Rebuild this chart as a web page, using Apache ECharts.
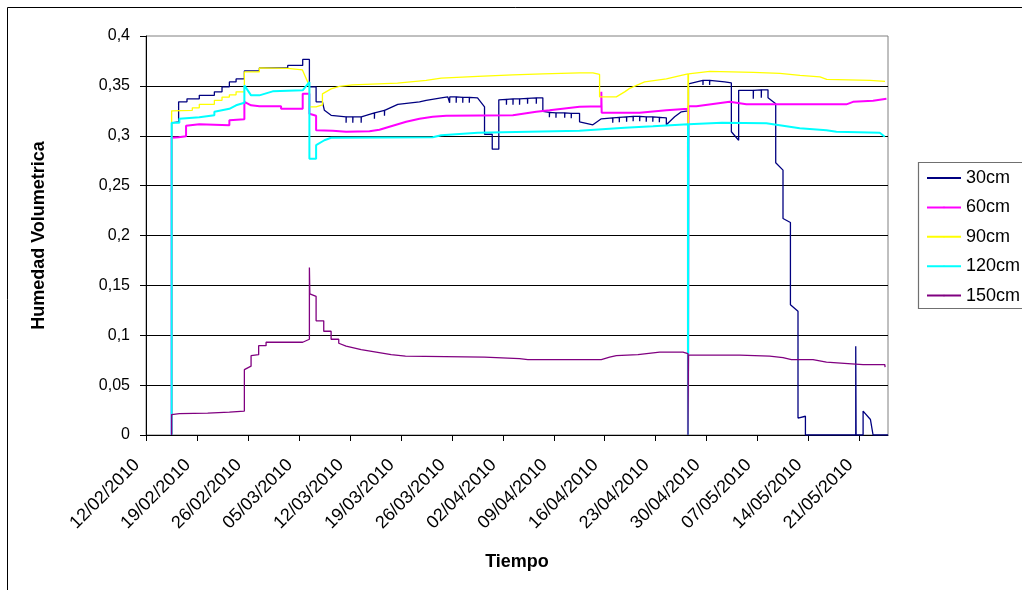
<!DOCTYPE html>
<html>
<head>
<meta charset="utf-8">
<script src="https://cdn.jsdelivr.net/npm/echarts@6/dist/echarts.min.js"></script>
<style>
html,body{margin:0;padding:0;background:#fff}
#chart{width:1022px;height:590px}
</style>
</head>
<body>
<div id="chart"></div>
<script>
// Soil moisture at five depths, x = days after 12/02/2010
const seriesNames = ['30cm', '60cm', '90cm', '120cm', '150cm'];
const seriesColors = ['#000080', '#FF00FF', '#FFFF00', '#00FFFF', '#800080'];
const seriesWidths = [1.3, 2, 1.3, 2, 1.3];

const tickDays = [0, 7, 14, 21, 28, 35, 42, 49, 56, 63, 70, 77, 84, 91, 98];
const dateLabels = ['12/02/2010', '19/02/2010', '26/02/2010', '05/03/2010', '12/03/2010',
  '19/03/2010', '26/03/2010', '02/04/2010', '09/04/2010', '16/04/2010', '23/04/2010',
  '30/04/2010', '07/05/2010', '14/05/2010', '21/05/2010'];
const yLabels = ['0', '0,05', '0,1', '0,15', '0,2', '0,25', '0,3', '0,35', '0,4'];

const depth30 = [
  [3.52,0],[3.52,0.313],[4.48,0.314],[4.48,0.334],[5.63,0.334],[5.63,0.337],[7.32,0.337],[7.32,0.3405],
  [9.39,0.3405],[9.39,0.344],[10.44,0.344],[10.44,0.349],[11.45,0.349],[11.45,0.354],[12.37,0.354],[12.37,0.357],
  [13.51,0.357],[13.51,0.365],[15.57,0.365],[15.57,0.368],[19.46,0.368],[19.46,0.3705],[21.52,0.3705],[21.52,0.3765],
  [22.44,0.3765],[22.44,0.349],[23.36,0.349],[23.36,0.334],[24.23,0.334],[24.5,0.3255],[25.42,0.3205],
  [27.48,0.319],[27.48,0.313],[27.5,0.319],
  [28.4,0.319],[28.4,0.313],[28.42,0.319],
  [29.55,0.319],[29.55,0.313],[29.57,0.319],
  [31.37,0.323],[31.37,0.317],[31.39,0.323],
  [32.75,0.3255],[32.75,0.32],[32.77,0.3255],
  [34.58,0.3315],[37.56,0.334],[38.48,0.3355],[40.54,0.338],[41.45,0.339],
  [41.7,0.339],[41.7,0.333],[41.72,0.339],
  [42.6,0.339],[42.6,0.333],[42.62,0.339],
  [43.5,0.3385],[43.5,0.333],[43.52,0.3385],
  [44.4,0.3385],[44.4,0.333],[44.42,0.3385],
  [45.53,0.338],[46.49,0.329],[46.49,0.3015],[47.55,0.3015],[47.55,0.2865],[48.45,0.2865],[48.45,0.336],
  [49.5,0.3365],[49.5,0.331],[49.52,0.3365],
  [50.4,0.337],[50.4,0.331],[50.42,0.337],
  [51.3,0.337],[51.3,0.331],[51.32,0.337],
  [52.4,0.3375],[52.4,0.332],[52.42,0.3375],
  [53.6,0.338],[53.6,0.332],[53.62,0.338],
  [54.5,0.338],[54.5,0.3245],
  [55.4,0.3235],[55.4,0.3185],[55.42,0.3235],
  [56.3,0.323],[56.3,0.318],[56.32,0.323],
  [57.5,0.323],[57.5,0.318],[57.52,0.323],
  [58.4,0.3225],[58.4,0.3175],[58.42,0.3225],
  [59.54,0.3225],[59.54,0.314],[61.37,0.311],[62.53,0.317],
  [64.1,0.318],[64.1,0.313],[64.12,0.318],
  [65.0,0.3185],[65.0,0.3135],[65.02,0.3185],
  [66.0,0.319],[66.0,0.314],[66.02,0.319],
  [66.9,0.3195],[66.9,0.3145],[66.92,0.3195],
  [67.8,0.3195],[67.8,0.3145],[67.82,0.3195],
  [68.7,0.319],[68.7,0.314],[68.72,0.319],
  [69.6,0.319],[69.6,0.314],[69.62,0.319],
  [70.5,0.3185],[70.5,0.3135],[70.52,0.3185],
  [71.46,0.318],[71.46,0.311],[72.6,0.319],[73.52,0.324],[74.43,0.325],[74.43,0],[74.5,0.352],
  [76.49,0.3555],[76.49,0.351],[76.51,0.3555],
  [77.4,0.3555],[77.4,0.351],[77.42,0.3555],
  [79.47,0.354],[80.39,0.353],[80.39,0.304],[81.39,0.2955],[81.39,0.3455],
  [83.4,0.3455],[83.4,0.337],[83.42,0.3455],
  [84.5,0.346],[84.5,0.338],[84.52,0.346],
  [85.42,0.346],[85.42,0.338],[86.48,0.332],[86.48,0.273],[87.48,0.2655],[87.48,0.217],[88.5,0.213],
  [88.5,0.1305],[89.54,0.124],[89.54,0.017],[90.56,0.0188],[90.56,0],[97.47,0],[97.47,0.089],[97.52,0],
  [98.48,0],[98.48,0.024],[99.49,0.0155],[99.85,0],[101.9,0]
];

const depth60 = [
  [3.52,0],[3.52,0.298],[4.48,0.2985],[5.5,0.2995],[5.5,0.310],[7.32,0.3115],[11.45,0.3105],[11.45,0.3155],
  [13.51,0.3165],[13.51,0.334],[14.43,0.3305],[15.57,0.3295],[18.55,0.3295],[18.55,0.327],[21.52,0.327],
  [21.52,0.342],[22.44,0.342],[22.44,0.322],[23.36,0.32],[23.36,0.3055],[25.64,0.305],[27.48,0.304],
  [30.69,0.3045],[32.06,0.306],[33.43,0.309],[35.73,0.314],[37.56,0.317],[39.38,0.319],[41.23,0.32],
  [50.38,0.3205],[53.59,0.324],[55.42,0.3255],[59.54,0.329],[62.53,0.3295],[62.53,0.344],[62.58,0.323],
  [67.79,0.323],[71.46,0.3255],[74.43,0.327],[74.43,0],[74.5,0.3295],[75.58,0.3295],[80.16,0.334],
  [82.45,0.3315],[96.19,0.3315],[97.1,0.334],[99.85,0.335],[101.69,0.337]
];

const depth90 = [
  [3.52,0],[3.52,0.325],[6.36,0.3255],[6.36,0.328],[7.32,0.328],[7.32,0.3315],[9.39,0.3315],[9.39,0.3355],
  [10.44,0.3355],[10.44,0.3388],[11.45,0.3388],[11.45,0.341],[12.37,0.341],[12.37,0.344],[13.51,0.344],
  [13.51,0.364],[15.57,0.364],[15.57,0.368],[19.46,0.3675],[21.48,0.366],[22.44,0.35],[22.44,0.329],
  [23.36,0.329],[24.23,0.331],[24.23,0.342],[25.42,0.347],[26.56,0.3495],[28.35,0.351],[34.53,0.3527],
  [38.48,0.3555],[40.54,0.3578],[45.57,0.3595],[50.38,0.361],[54.5,0.362],[59.54,0.363],[61.37,0.363],
  [62.29,0.3615],[62.29,0.339],[64.59,0.339],[65.73,0.344],[66.42,0.3475],[68.48,0.354],[71.46,0.357],
  [73.52,0.3605],[74.43,0.362],[74.43,0],[74.5,0.362],[77.42,0.3645],[83.4,0.3635],[85.23,0.363],
  [87.06,0.3625],[89.81,0.3605],[92.56,0.359],[93.48,0.3565],[99.43,0.3555],[101.49,0.3545]
];

const depth120 = [
  [3.52,0],[3.52,0.313],[4.58,0.313],[4.58,0.317],[7.32,0.3185],[7.32,0.3205],[9.39,0.3205],[9.39,0.324],
  [11.45,0.327],[11.45,0.329],[12.37,0.3305],[13.51,0.333],[13.51,0.3505],[14.43,0.3405],[15.57,0.3405],
  [17.4,0.3445],[21.52,0.3455],[22.44,0.354],[22.44,0.277],[23.36,0.277],[23.36,0.2905],[24.5,0.2955],
  [25.42,0.298],[39.38,0.2985],[40.54,0.3005],[45.57,0.303],[59.54,0.305],[65.73,0.308],[69.62,0.3095],
  [74.43,0.3115],[74.43,0],[74.5,0.3115],[79.1,0.313],[85.2,0.3125],[88.4,0.309],[89.78,0.3075],
  [93.45,0.3055],[94.82,0.304],[100.77,0.303],[101.46,0.299]
];

const depth150 = [
  [3.52,0],[3.52,0.0205],[4.58,0.0215],[8.47,0.022],[11.45,0.023],[13.51,0.024],[13.51,0.0655],[14.43,0.069],
  [14.43,0.0795],[15.47,0.0805],[15.47,0.0895],[16.49,0.0895],[16.49,0.093],[21.52,0.093],[22.44,0.096],
  [22.44,0.168],[22.5,0.1415],[23.36,0.139],[23.36,0.1145],[24.41,0.1145],[24.41,0.104],[25.42,0.104],
  [25.42,0.096],[26.47,0.096],[26.47,0.092],[27.48,0.089],[29.55,0.0855],[31.61,0.083],[33.67,0.0805],
  [35.63,0.079],[46.49,0.078],[51.3,0.0765],[52.44,0.0755],[62.53,0.0755],[63.67,0.078],[64.59,0.0795],
  [67.56,0.0805],[70.54,0.083],[73.74,0.083],[74.43,0.0815],[74.43,0],[74.5,0.08],[81.53,0.08],
  [85.65,0.079],[87.48,0.0775],[88.64,0.0755],[91.6,0.0755],[93.45,0.073],[96.41,0.0715],[98.48,0.0705],
  [101.46,0.0705],[101.5,0.068]
];

const seriesData = [depth30, depth60, depth90, depth120, depth150];

const FONT = '"Liberation Sans", Arial, sans-serif';
const chart = echarts.init(document.getElementById('chart'), null, { renderer: 'canvas' });

chart.setOption({
  animation: false,
  backgroundColor: '#ffffff',
  textStyle: { fontFamily: FONT, color: '#000' },
  grid: {
    left: 146, top: 36, right: 134, bottom: 155,
    show: true, borderColor: '#808080', borderWidth: 1, backgroundColor: 'transparent'
  },
  xAxis: {
    type: 'value', min: 0, max: 101.9,
    name: 'Tiempo', nameLocation: 'middle', nameGap: 118,
    nameTextStyle: { fontFamily: FONT, fontSize: 18, fontWeight: 'bold', color: '#000' },
    axisLine: { show: true, onZero: false, lineStyle: { color: '#000', width: 1 } },
    axisTick: { show: true, length: 6, customValues: tickDays, lineStyle: { color: '#000' } },
    axisLabel: {
      customValues: tickDays, rotate: 45, margin: 18, padding: [0, 13, 0, 0],
      fontFamily: FONT, fontSize: 18, color: '#000',
      formatter: v => dateLabels[Math.round(v / 7)]
    },
    splitLine: { show: false }
  },
  yAxis: {
    type: 'value', min: 0, max: 0.4, interval: 0.05,
    name: 'Humedad Volumetrica', nameLocation: 'middle', nameGap: 98,
    nameTextStyle: { fontFamily: FONT, fontSize: 18, fontWeight: 'bold', color: '#000' },
    axisLine: { show: true, lineStyle: { color: '#000', width: 1 } },
    axisTick: { show: true, length: 6, lineStyle: { color: '#000' } },
    axisLabel: {
      margin: 16, fontFamily: FONT, fontSize: 16, color: '#000',
      formatter: v => yLabels[Math.round(v / 0.05)]
    },
    splitLine: { show: true, showMaxLine: false, lineStyle: { color: '#000', width: 1 } }
  },
  legend: {
    orient: 'vertical', left: 926, top: 168, padding: 0,
    itemWidth: 34, itemHeight: 2, itemGap: 9.4,
    textStyle: { fontFamily: FONT, fontSize: 18, color: '#000', lineHeight: 20 },
    data: seriesNames
  },
  graphic: [
    { type: 'rect', z: -1, shape: { x: 7.5, y: 7.5, width: 1100, height: 700 },
      style: { fill: 'none', stroke: '#000', lineWidth: 1 } },
    { type: 'rect', z: 0, shape: { x: 918.5, y: 162.5, width: 200, height: 146 },
      style: { fill: '#fff', stroke: '#707070', lineWidth: 1.2 } }
  ],
  series: seriesNames.map((name, i) => ({
    name: name,
    type: 'line',
    data: seriesData[i],
    symbol: 'none',
    showSymbol: false,
    color: seriesColors[i],
    lineStyle: { color: seriesColors[i], width: seriesWidths[i] },
    itemStyle: { color: seriesColors[i] },
    clip: true
  }))
});
</script>
</body>
</html>
